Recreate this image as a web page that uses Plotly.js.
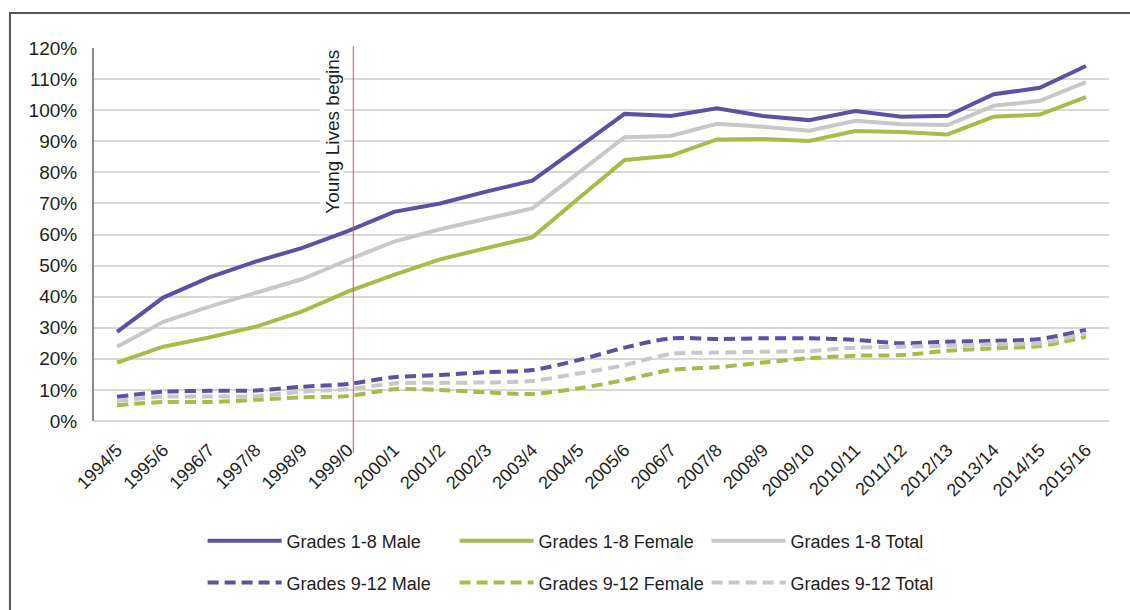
<!DOCTYPE html>
<html>
<head>
<meta charset="utf-8">
<script src="https://cdn.plot.ly/plotly-3.0.1.min.js"></script>
<style>
  html, body { margin: 0; padding: 0; background: #fff; }
  #chart { width: 1130px; height: 610px; }
</style>
</head>
<body>
<div id="chart"></div>
<script>
// school years on the x axis
let years = ['1994/5','1995/6','1996/7','1997/8','1998/9','1999/0','2000/1','2001/2','2002/3','2003/4',
  '2004/5','2005/6','2006/7','2007/8','2008/9','2009/10','2010/11','2011/12','2012/13','2013/14','2014/15','2015/16'];

// enrolment, percent
let g18Male   = [28.7,39.7,46.2,51.3,55.6,61.1,67.3,70.0,73.8,77.3,88.0,98.8,98.1,100.6,98.1,96.8,99.7,97.9,98.2,105.1,107.2,114.2];
let g18Female = [18.8,23.9,26.9,30.3,35.2,41.6,47.0,52.0,55.6,59.1,71.6,84.0,85.3,90.6,90.7,90.1,93.3,93.0,92.2,97.9,98.6,104.2];
let g18Total  = [23.9,31.9,36.8,41.3,45.6,51.8,57.7,61.7,65.2,68.4,79.8,91.3,91.7,95.6,94.7,93.4,96.6,95.5,95.2,101.4,103.0,109.0];
let g912Male   = [7.8,9.4,9.7,9.8,11.0,11.9,14.1,14.8,15.7,16.4,19.6,23.6,26.6,26.4,26.6,26.6,26.1,25.0,25.5,25.8,26.4,29.3];
let g912Female = [5.1,6.1,6.1,6.8,7.6,8.0,10.2,10.0,9.2,8.7,10.5,13.2,16.4,17.3,18.8,20.2,21.0,21.2,22.6,23.4,24.1,27.1];
let g912Total  = [6.5,7.8,7.9,8.0,9.4,10.2,12.1,12.3,12.4,12.9,15.3,18.0,21.6,22.0,22.3,22.5,23.6,23.9,24.2,24.7,25.0,28.2];

let markerYear = '1999/0';
let markerText = 'Young Lives begins';

const PURPLE = '#5b51a6';
const GREEN = '#a6bd4a';
const GREY = '#c8c8c8';
const FONT = '"Liberation Sans", Arial, sans-serif';

function solid(name, y, color){
  return { x: years, y: y, name: name, type: 'scatter', mode: 'lines', legend: 'legend',
    line: { color: color, width: 4 }, hoverinfo: 'skip' };
}
function dashed(name, y, color){
  return { x: years, y: y, name: name, type: 'scatter', mode: 'lines', legend: 'legend2',
    line: { color: color, width: 4, dash: '11px,6px', shape: 'spline', smoothing: 0.8 }, hoverinfo: 'skip' };
}

let traces = [
  solid('Grades 1-8 Male', g18Male, PURPLE),
  solid('Grades 1-8 Female', g18Female, GREEN),
  solid('Grades 1-8 Total', g18Total, GREY),
  dashed('Grades 9-12 Male', g912Male, PURPLE),
  dashed('Grades 9-12 Female', g912Female, GREEN),
  dashed('Grades 9-12 Total', g912Total, GREY)
];

let markerX = years.indexOf(markerYear) + 0.12;

let legendBase = {
  orientation: 'h', xanchor: 'left', yanchor: 'middle', x: 0.107,
  entrywidth: 163, entrywidthmode: 'pixels', itemwidth: 74,
  font: { family: FONT, size: 18, color: '#231f20' }, bgcolor: 'rgba(0,0,0,0)'
};

let layout = {
  width: 1130, height: 610,
  margin: { l: 94, r: 21, t: 48, b: 189, autoexpand: false },
  paper_bgcolor: '#fff', plot_bgcolor: '#fff',
  font: { family: FONT, size: 18, color: '#231f20' },
  showlegend: true,
  legend: Object.assign({}, legendBase, { y: -0.322 }),
  legend2: Object.assign({}, legendBase, { y: -0.434 }),
  xaxis: {
    type: 'category', range: [-0.5, years.length - 0.5],
    showgrid: false, zeroline: false, showline: false,
    ticks: '', tickangle: -45, ticklabelstandoff: 14,
    tickfont: { family: FONT, size: 18, color: '#231f20' }
  },
  yaxis: {
    range: [0, 120], dtick: 10, ticksuffix: '%',
    showgrid: true, gridcolor: '#d9d9d9', gridwidth: 2,
    zeroline: true, zerolinecolor: '#d9d9d9', zerolinewidth: 2,
    showline: true, linecolor: '#8c8c8c', linewidth: 2,
    ticks: '', ticklabelstandoff: 11,
    tickfont: { family: FONT, size: 19, color: '#231f20' }
  },
  shapes: [
    // outer frame of the figure
    { type: 'rect', xref: 'paper', yref: 'paper', x0: -0.0828, x1: 1.05, y0: -0.6, y1: 1.094,
      line: { color: '#555', width: 2 }, fillcolor: 'rgba(0,0,0,0)' },
    { type: 'line', xref: 'x', yref: 'paper', x0: markerX, x1: markerX, y0: -0.086, y1: 1.005,
      line: { color: '#d9534f', width: 1 } }
  ],
  annotations: [
    { text: markerText, xref: 'x', yref: 'paper', x: markerX, y: 1.0, xanchor: 'right', yanchor: 'top',
      xshift: -9, textangle: -90, showarrow: false, bgcolor: '#fff',
      font: { family: FONT, size: 19, color: '#231f20' } }
  ]
};

Plotly.newPlot('chart', traces, layout, { staticPlot: true });
</script>
</body>
</html>
